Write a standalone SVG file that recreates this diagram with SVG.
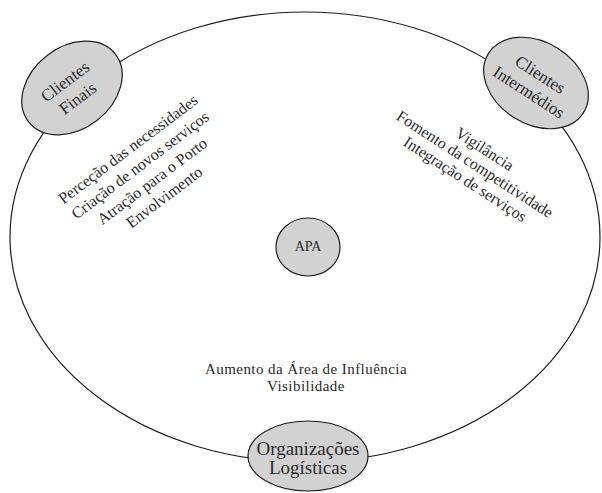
<svg xmlns="http://www.w3.org/2000/svg" width="602" height="493" viewBox="0 0 602 493">
<style>
.node{fill:#d2d2d2;stroke:#1e1e1e;stroke-width:1.2}
.link{fill:none;stroke:#1e1e1e;stroke-width:1.2}
text{font-family:"Liberation Serif","Times New Roman",serif;fill:#2a2a2a;text-anchor:middle}
.lbl{font-size:17px}
.item{font-size:16px}
.bottom{font-size:15px;letter-spacing:0.45px}
</style>
<rect width="602" height="493" fill="#ffffff"/>
<g id="connectors">
<ellipse class="link" cx="305" cy="237" rx="295" ry="225"/>
</g>
<g id="clientes-finais">
<ellipse class="node" cx="72" cy="88" rx="55" ry="41" transform="rotate(-38 72 88)"/>
<g transform="translate(71.5 90) rotate(-37)">
<text class="lbl" y="-5">Clientes</text>
<text class="lbl" y="16">Finais</text>
</g>
</g>
<g id="clientes-intermedios">
<ellipse class="node" cx="536" cy="83" rx="56" ry="41" transform="rotate(32 536 83)"/>
<g transform="translate(534.5 83.5) rotate(33)">
<text class="lbl" y="-5">Clientes</text>
<text class="lbl" y="16">Intermédios</text>
</g>
</g>
<g id="apa">
<ellipse class="node" cx="308" cy="247" rx="32" ry="29"/>
<text x="308" y="251" style="font-size:14px">APA</text>
</g>
<g id="organizacoes-logisticas">
<ellipse class="node" cx="308" cy="456" rx="60" ry="35"/>
<text x="308" y="455" style="font-size:19px">Organizações</text>
<text x="308" y="474" style="font-size:19px">Logísticas</text>
</g>
<g id="texto-clientes-finais" transform="translate(146 173) rotate(-37)">
<text class="item" y="-24.5">Perceção das necessidades</text>
<text class="item" y="-4.5">Criação de novos serviços</text>
<text class="item" y="15.5">Atração para o Porto</text>
<text class="item" y="35.5">Envolvimento</text>
</g>
<g id="texto-clientes-intermedios" transform="translate(475 164) rotate(33)">
<text class="item" y="-12.5">Vigilância</text>
<text class="item" y="5.5">Fomento da competitividade</text>
<text class="item" y="23.5">Integração de serviços</text>
</g>
<g id="texto-organizacoes">
<text class="bottom" x="306" y="373.5">Aumento da Área de Influência</text>
<text class="bottom" x="306" y="390.5">Visibilidade</text>
</g>
</svg>
